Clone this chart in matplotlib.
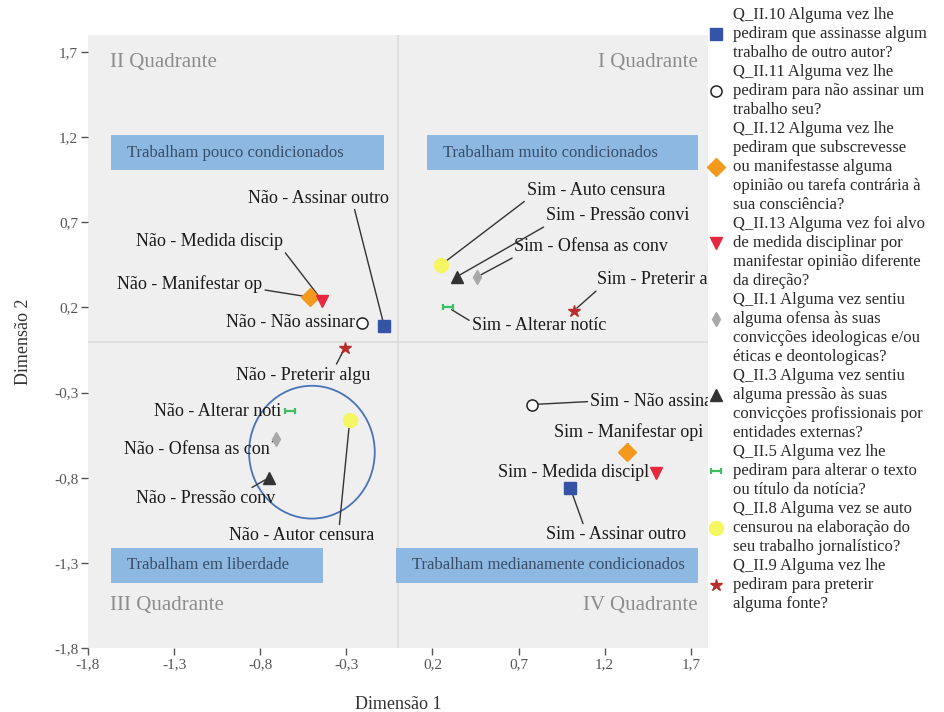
import numpy as np
import matplotlib.pyplot as plt
from matplotlib.patches import Ellipse, Rectangle
from matplotlib.path import Path

plt.rcParams['font.family'] = ['Liberation Serif', 'DejaVu Serif']

# questions, wrapped as in the original legend
questions = [
    ['Q_II.10 Alguma vez lhe', 'pediram que assinasse algum', 'trabalho de outro autor?'],
    ['Q_II.11 Alguma vez lhe', 'pediram para não assinar um', 'trabalho seu?'],
    ['Q_II.12 Alguma vez lhe', 'pediram que subscrevesse', 'ou manifestasse alguma',
     'opinião ou tarefa contrária à', 'sua consciência?'],
    ['Q_II.13 Alguma vez foi alvo', 'de medida disciplinar por',
     'manifestar opinião diferente', 'da direção?'],
    ['Q_II.1 Alguma vez sentiu', 'alguma ofensa às suas',
     'convicções ideologicas e/ou', 'éticas e deontologicas?'],
    ['Q_II.3 Alguma vez sentiu', 'alguma pressão às suas',
     'convicções profissionais por', 'entidades externas?'],
    ['Q_II.5 Alguma vez lhe', 'pediram para alterar o texto', 'ou título da notícia?'],
    ['Q_II.8 Alguma vez se auto', 'censurou na elaboração do', 'seu trabalho jornalístico?'],
    ['Q_II.9 Alguma vez lhe', 'pediram para preterir', 'alguma fonte?'],
]

# category coordinates (same order as questions)
nao_labels = ['Não - Assinar outro', 'Não - Não assinar', 'Não - Manifestar op',
              'Não - Medida discip', 'Não - Ofensa as con', 'Não - Pressão conv',
              'Não - Alterar noti', 'Não - Autor censura', 'Não - Preterir algu']
nao_x = [-0.08, -0.21, -0.51, -0.44, -0.71, -0.75, -0.63, -0.28, -0.31]
nao_y = [0.09, 0.11, 0.26, 0.24, -0.57, -0.80, -0.41, -0.46, -0.04]

sim_labels = ['Sim - Assinar outro', 'Sim - Não assinar', 'Sim - Manifestar opi',
              'Sim - Medida discipl', 'Sim - Ofensa as conv', 'Sim - Pressão convi',
              'Sim - Alterar notíc', 'Sim - Auto censura', 'Sim - Preterir alg']
sim_x = [1.00, 0.78, 1.33, 1.50, 0.46, 0.34, 0.29, 0.25, 1.02]
sim_y = [-0.86, -0.37, -0.65, -0.77, 0.38, 0.38, 0.20, 0.45, 0.18]

ticks = [-1.8, -1.3, -0.8, -0.3, 0.2, 0.7, 1.2, 1.7]

# marker styles
bar_marker = Path([(-1, -0.7), (-1, 0.7), (-1, 0), (1, 0), (1, -0.7), (1, 0.7)],
                  [Path.MOVETO, Path.LINETO, Path.MOVETO, Path.LINETO, Path.MOVETO, Path.LINETO])
styles = [
    dict(marker='s', ms=8, mfc='#3554A8', mec='#3554A8'),
    dict(marker='o', ms=8, mfc='white', mec='#222222', mew=1.1),
    dict(marker='D', ms=9, mfc='#F39A1E', mec='#F39A1E'),
    dict(marker='v', ms=8, mfc='#E6283E', mec='#E6283E'),
    dict(marker='d', ms=7, mfc='#A8A8A8', mec='#A8A8A8'),
    dict(marker='^', ms=8, mfc='#333333', mec='#333333'),
    dict(marker=bar_marker, ms=7, mfc='none', mec='#3EBE5E', mew=1.6),
    dict(marker='o', ms=10, mfc='#F6F562', mec='#F6F562'),
    dict(marker='*', ms=9, mfc='#B5302C', mec='#B5302C'),
]

# label placement: (dx px, dy px, ha, relpos or None)
nao_place = [(-136, 128, 'left', (0.75, 0.0)), (-7, 0, 'right', None),
             (-193, 13, 'left', (1.0, 0.2)), (-186, 59, 'left', (1.0, 0.0)),
             (-152, -11, 'left', (1.0, 0.8)), (-133, -21, 'left', (0.8, 1.0)),
             (-136, 0, 'left', None), (-121, -116, 'left', (0.76, 1.0)),
             (-109, -27, 'left', (0.74, 1.0))]
sim_place = [(-24, -47, 'left', (0.27, 1.0)), (58, 3, 'left', (0.0, 0.5)),
             (-73, 20, 'left', (0.5, 0.0)), (-7, 0, 'right', None),
             (37, 30, 'left', (0.02, 0.0)), (89, 61, 'left', (0.02, 0.0)),
             (24, -18, 'left', (0.0, 0.7)), (86, 74, 'left', (0.0, 0.0)),
             (23, 31, 'left', (0.02, 0.0))]

fig = plt.figure(figsize=(9.44, 7.12), dpi=100)
ax = fig.add_axes([88 / 944, 1 - 648 / 712, 620 / 944, 613 / 712])
ax.set_facecolor('#EFEFEF')
ax.set_xlim(-1.8, 1.8)
ax.set_ylim(-1.8, 1.8)
for s in ax.spines.values():
    s.set_visible(False)
ax.axhline(0, color='#DCDCDC', lw=1.2, zorder=1)
ax.axvline(0, color='#DCDCDC', lw=1.2, zorder=1)

ax.set_xticks(ticks)
ax.set_yticks(ticks)
ax.set_xticklabels([f'{t:.1f}'.replace('.', ',') for t in ticks])
ax.set_yticklabels([f'{t:.1f}'.replace('.', ',') for t in ticks])
ax.tick_params(length=5, width=1, color='#555555', labelcolor='#555555',
               labelsize=11, pad=2)
ax.set_xlabel('Dimensão 1', fontsize=13, color='#333333', labelpad=18)
ax.set_ylabel('Dimensão 2', fontsize=13, color='#333333', labelpad=16)

# quadrant titles
qkw = dict(fontsize=15, color='#8C8C8C', va='center')
ax.text(-1.67, 1.64, 'II Quadrante', ha='left', **qkw)
ax.text(1.74, 1.64, 'I Quadrante', ha='right', **qkw)
ax.text(-1.67, -1.55, 'III Quadrante', ha='left', **qkw)
ax.text(1.74, -1.55, 'IV Quadrante', ha='right', **qkw)

# shaded boxes
boxes = [(-1.666, 1.006, 1.587, 0.206, 'Trabalham pouco condicionados'),
         (0.171, 1.006, 1.570, 0.206, 'Trabalham muito condicionados'),
         (-1.666, -1.418, 1.232, 0.206, 'Trabalham em liberdade'),
         (-0.009, -1.418, 1.750, 0.206, 'Trabalham medianamente condicionados')]
for bx, by, bw, bh, txt in boxes:
    ax.add_patch(Rectangle((bx, by), bw, bh, facecolor='#8DB8E2', edgecolor='none', zorder=2))
    ax.text(bx + 0.09, by + bh / 2, txt, fontsize=12, color='#3A4D68',
            ha='left', va='center', zorder=3)

ax.add_patch(Ellipse((-0.50, -0.65), 0.73, 0.78, facecolor='none',
                     edgecolor='#4A72B8', lw=1.3, zorder=4))

# points and labels
for xs, ys, labels, place in [(nao_x, nao_y, nao_labels, nao_place),
                              (sim_x, sim_y, sim_labels, sim_place)]:
    for i in range(len(xs)):
        ax.plot(xs[i], ys[i], linestyle='none', zorder=6, **styles[i])
        dx, dy, ha, rel = place[i]
        arrow = None
        if rel is not None:
            arrow = dict(arrowstyle='-', color='#333333', lw=1.0, relpos=rel,
                         shrinkA=0, shrinkB=3)
        ax.annotate(labels[i], (xs[i], ys[i]), xytext=(dx, dy),
                    textcoords='offset pixels', ha=ha, va='center',
                    fontsize=13, color='#1A1A1A', arrowprops=arrow,
                    clip_on=True, zorder=5)

# legend on the right
lax = fig.add_axes([0, 0, 1, 1], facecolor='none')
lax.set_xlim(0, 944)
lax.set_ylim(712, 0)
lax.axis('off')
row = 0
for i, lines in enumerate(questions):
    mrow = row + (len(lines) - 1) // 2
    lax.plot(716, 15 + 19 * mrow, linestyle='none', clip_on=False, **styles[i])
    for line in lines:
        lax.text(733, 15 + 19 * row, line, fontsize=12, color='#2A2A2A',
                 ha='left', va='center')
        row += 1

fig.savefig('out.png', dpi=100)
